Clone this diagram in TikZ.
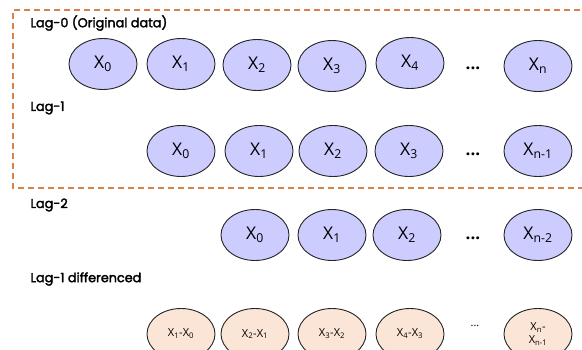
\documentclass[tikz,border=0pt]{standalone}
\usepackage{fontspec}
\setmainfont{Open Sans}
\newfontfamily\labelfont[FakeBold=2.4]{Poppins}
\usetikzlibrary{shapes.geometric}
\definecolor{boxorange}{HTML}{D9824A}
\definecolor{lagblue}{HTML}{CCCCFF}
\definecolor{diffpeach}{HTML}{FBE5D6}
\newcommand\lsub[1]{\textsubscript{#1}}
\tikzset{
  lagnode/.style={ellipse, draw=black!85, line width=0.9pt, fill=lagblue,
    minimum width=68pt, minimum height=51pt, inner sep=0pt, font=\fontsize{17.5}{18}\selectfont},
  diffnode/.style={ellipse, draw=black!85, line width=0.9pt, fill=diffpeach,
    minimum width=68pt, minimum height=51pt, inner sep=0pt, align=center,
    font=\fontsize{11}{13}\selectfont},
  dotsnode/.style={font=\fontsize{17}{18}\selectfont\bfseries},
  smalldots/.style={font=\fontsize{11}{12}\selectfont},
  rowlabel/.style={anchor=west, font=\labelfont\fontsize{12.8}{14}\selectfont}
}
\begin{document}
\begin{tikzpicture}[x=1pt, y=-1pt]
\useasboundingbox (0,0) rectangle (582,349);
\clip (0,0) rectangle (582,349);
\fill[white] (0,0) rectangle (582,349);

% lag-0 / lag-1 frame, open on the right
\draw[boxorange, line width=1.3pt, dash pattern=on 6pt off 4pt]
  (590,10) -- (13,10) -- (13,188) -- (590,188);

% row labels
\node[rowlabel] (l0) at (27,23) {Lag-0 (Original data)};
\node[rowlabel] (l1) at (27,108) {Lag-1};
\node[rowlabel] (l2) at (27,205) {Lag-2};
\node[rowlabel] (ld) at (27,279) {Lag-1 differenced};

% lag-0 row
\node[lagnode] (a0) at (103,64) {X\lsub{0}};
\node[lagnode] (a1) at (181,64) {X\lsub{1}};
\node[lagnode] (a2) at (257,65) {X\lsub{2}};
\node[lagnode] (a3) at (332,66) {X\lsub{3}};
\node[lagnode] (a4) at (410,63) {X\lsub{4}};
\node[dotsnode] (ad) at (473,68) {...};
\node[lagnode] (an) at (538,66) {X\lsub{n}};

% lag-1 row
\node[lagnode] (b0) at (181,151) {X\lsub{0}};
\node[lagnode] (b1) at (259,151) {X\lsub{1}};
\node[lagnode] (b2) at (333,151) {X\lsub{2}};
\node[lagnode] (b3) at (409,151) {X\lsub{3}};
\node[dotsnode] (bd) at (473,154) {...};
\node[lagnode] (bn) at (538,151) {X\lsub{n-1}};

% lag-2 row
\node[lagnode] (c0) at (255,235) {X\lsub{0}};
\node[lagnode] (c1) at (332,235) {X\lsub{1}};
\node[lagnode] (c2) at (407,235) {X\lsub{2}};
\node[dotsnode] (cd) at (473,238) {...};
\node[lagnode] (cn) at (538,235) {X\lsub{n-2}};

% differenced row
\node[diffnode] (d1) at (181,334) {X\lsub{1}-X\lsub{0}};
\node[diffnode] (d2) at (255,334) {X\lsub{2}-X\lsub{1}};
\node[diffnode] (d3) at (332,334) {X\lsub{3}-X\lsub{2}};
\node[diffnode] (d4) at (410,334) {X\lsub{4}-X\lsub{3}};
\node[smalldots] (dd) at (475,326) {...};
\node[diffnode] (dn) at (538,334) {X\lsub{n}-\\X\lsub{n-1}};
\end{tikzpicture}
\end{document}
